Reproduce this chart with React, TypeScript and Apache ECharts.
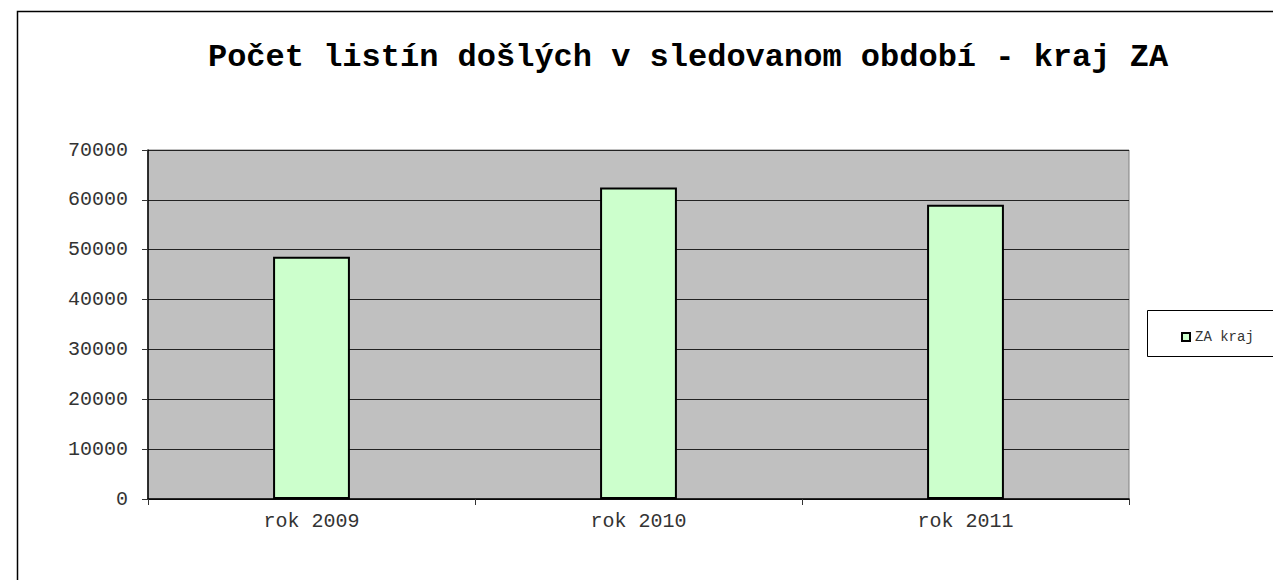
import React, { useEffect, useRef } from "react";
import * as echarts from "echarts";

const categories = ["rok 2009", "rok 2010", "rok 2011"];
const seriesName = "ZA kraj";
const values = [48600, 62500, 59000];
const titleText = "Počet listín došlých v sledovanom období - kraj ZA";

export default function App() {
  const ref = useRef<HTMLDivElement>(null);
  useEffect(() => {
    if (!ref.current) return;
    const chart = echarts.init(ref.current, null, { renderer: "svg" });
    const mono = "'Liberation Mono', 'Courier New', monospace";
    chart.setOption({
      animation: false,
      backgroundColor: "#ffffff",
      graphic: [
        {
          type: "rect",
          z: 0,
          shape: { x: 17.5, y: 11.5, width: 1300, height: 620 },
          style: { fill: "none", stroke: "#000", lineWidth: 1.5 },
        },
        {
          type: "rect",
          z: 0,
          shape: { x: 1147.5, y: 310.5, width: 140, height: 46 },
          style: { fill: "#fff", stroke: "#000", lineWidth: 1 },
        },
        {
          type: "text",
          z: 5,
          x: 688,
          y: 57,
          style: {
            text: titleText,
            font: `bold 32px ${mono}`,
            fill: "#000",
            align: "center",
            verticalAlign: "middle",
          },
        },
      ],
      legend: {
        z: 10,
        left: 1176,
        top: 325,
        icon: "rect",
        itemWidth: 8,
        itemHeight: 8,
        itemStyle: { borderColor: "#000", borderWidth: 2 },
        textStyle: { fontFamily: mono, fontSize: 14, color: "#333" },
        data: [seriesName],
      },
      grid: {
        left: 148,
        top: 150,
        width: 981,
        height: 349,
        show: true,
        backgroundColor: "#c0c0c0",
        borderColor: "#808080",
        borderWidth: 1,
      },
      xAxis: {
        type: "category",
        data: categories,
        axisLine: { show: true, lineStyle: { color: "#000", width: 1.5 } },
        axisTick: { show: true, alignWithLabel: false, length: 6, lineStyle: { color: "#333" } },
        axisLabel: { fontFamily: mono, fontSize: 20, color: "#333", margin: 12 },
      },
      yAxis: {
        type: "value",
        min: 0,
        max: 70000,
        interval: 10000,
        axisLine: { show: true, lineStyle: { color: "#000", width: 1.5 } },
        axisTick: { show: true, length: 6, lineStyle: { color: "#333" } },
        axisLabel: {
          fontFamily: mono,
          fontSize: 20,
          color: "#333",
          margin: 20,
          formatter: (v: number) => String(v),
        },
        splitLine: { show: true, lineStyle: { color: "#222", width: 1 } },
      },
      series: [
        {
          name: seriesName,
          type: "bar",
          data: values,
          barWidth: "23.5%",
          itemStyle: { color: "#ccffcc", borderColor: "#000", borderWidth: 2 },
        },
      ],
    });
    return () => chart.dispose();
  }, []);
  return (
    <div
      ref={ref}
      style={{ position: "fixed", left: 0, top: 0, width: 1273, height: 580 }}
    />
  );
}
